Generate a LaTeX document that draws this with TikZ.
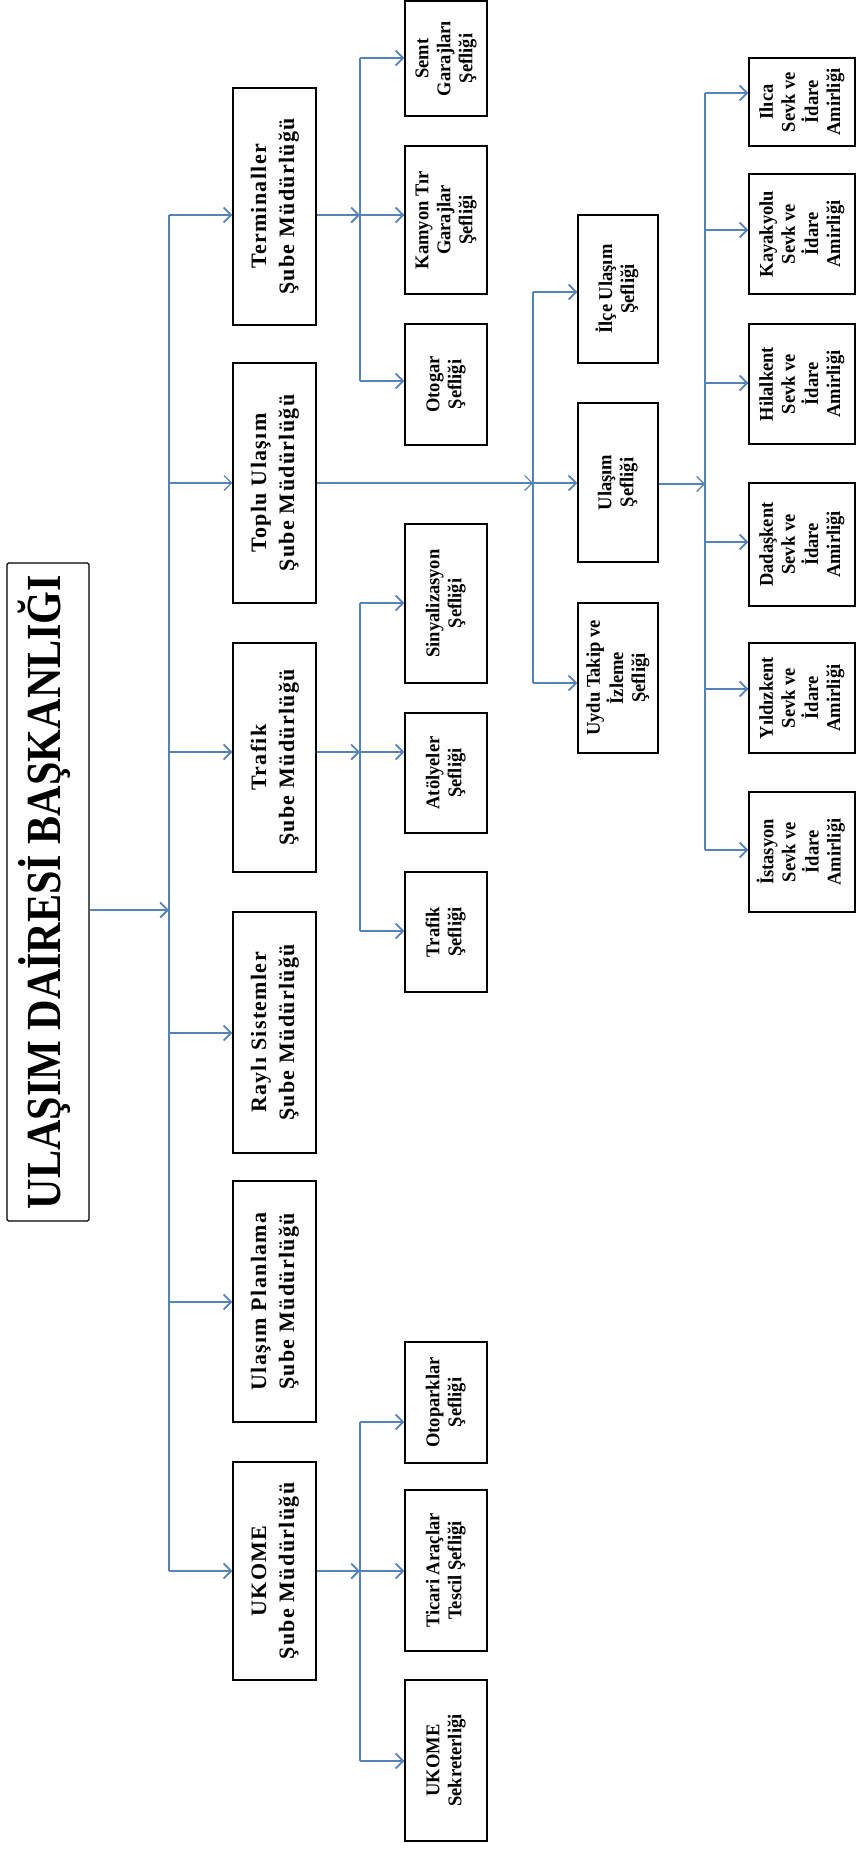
\documentclass[tikz,border=0pt]{standalone}
\usepackage{graphicx}
\usepackage{fontspec}
\setmainfont{Liberation Serif}
\newfontfamily\titlefont[FakeStretch=0.86]{Liberation Serif}
\newfontfamily\midfont[LetterSpace=6]{Liberation Serif}
\newfontfamily\smallfont[FakeStretch=0.95]{Liberation Serif}
\usetikzlibrary{arrows.meta}
\definecolor{ablue}{RGB}{84,130,185}
\newcommand\rtext[2]{\rotatebox{90}{#1\begin{tabular}{@{}c@{}}#2\end{tabular}}}
\newcommand\fA{\titlefont\bfseries\fontsize{49}{56}\selectfont}
\newcommand\fB{\midfont\bfseries\fontsize{22}{28}\selectfont}
\newcommand\fC{\smallfont\bfseries\fontsize{19.5}{22}\selectfont}
\tikzset{
  box/.style={draw=black, line width=1.3pt, inner sep=0pt, fill=white},
  conn/.style={draw=ablue, line width=1.8pt, -{Straight Barb[length=7.5pt,width=15pt]}},
  thinconn/.style={draw=ablue, line width=1.2pt, -{Straight Barb[length=7.5pt,width=15pt]}},
  bus/.style={draw=ablue, line width=2.4pt},
}
\begin{document}
\begin{tikzpicture}[x=1pt,y=1pt]
\fill[white] (0,0) rectangle (857,-1850);
\useasboundingbox (0,0) rectangle (857,-1850);

% title
\node[box, rounded corners=1.5pt, minimum width=82pt, minimum height=658pt] (title) at (48,-892) {\rtext{\fA}{ULAŞIM DAİRESİ BAŞKANLIĞI}};

% level 1
\node[box, minimum width=83pt, minimum height=237pt] (term) at (274.5,-206.5) {\rtext{\fB}{Terminaller\\Şube Müdürlüğü}};
\node[box, minimum width=83pt, minimum height=240pt] (toplu) at (274.5,-483) {\rtext{\fB}{Toplu Ulaşım\\Şube Müdürlüğü}};
\node[box, minimum width=83pt, minimum height=229pt] (trafik) at (274.5,-757.5) {\rtext{\fB}{Trafik\\Şube Müdürlüğü}};
\node[box, minimum width=83pt, minimum height=241pt] (rayli) at (274.5,-1032.5) {\rtext{\fB}{Raylı Sistemler\\Şube Müdürlüğü}};
\node[box, minimum width=83pt, minimum height=241pt] (plan) at (274.5,-1301.5) {\rtext{\fB}{Ulaşım Planlama\\Şube Müdürlüğü}};
\node[box, minimum width=83pt, minimum height=218pt] (ukome) at (274.5,-1571) {\rtext{\fB}{UKOME\\Şube Müdürlüğü}};

% level 2
\node[box, minimum width=82pt, minimum height=115pt] (semt) at (446,-58.5) {\rtext{\fC}{Semt\\Garajları\\Şefliği}};
\node[box, minimum width=82pt, minimum height=148pt] (kamyon) at (446,-220) {\rtext{\fC}{Kamyon Tır\\Garajlar\\Şefliği}};
\node[box, minimum width=82pt, minimum height=121pt] (otogar) at (446,-384.5) {\rtext{\fC}{Otogar\\Şefliği}};
\node[box, minimum width=82pt, minimum height=159pt] (sinyal) at (446,-603.5) {\rtext{\fC}{Sinyalizasyon\\Şefliği}};
\node[box, minimum width=82pt, minimum height=120pt] (atolye) at (446,-773) {\rtext{\fC}{Atölyeler\\Şefliği}};
\node[box, minimum width=82pt, minimum height=120pt] (trafiks) at (446,-932) {\rtext{\fC}{Trafik\\Şefliği}};
\node[box, minimum width=82pt, minimum height=121pt] (otopark) at (446,-1402.5) {\rtext{\fC}{Otoparklar\\Şefliği}};
\node[box, minimum width=82pt, minimum height=161pt] (ticari) at (446,-1570.5) {\rtext{\fC}{Ticari Araçlar\\Tescil Şefliği}};
\node[box, minimum width=82pt, minimum height=161pt] (ukomes) at (446,-1760.5) {\rtext{\fC}{UKOME\\Sekreterliği}};

% level 2b
\node[box, minimum width=80pt, minimum height=148pt] (ilce) at (618,-289) {\rtext{\fC}{İlçe Ulaşım\\Şefliği}};
\node[box, minimum width=80pt, minimum height=159pt] (ulasims) at (618,-482.5) {\rtext{\fC}{Ulaşım\\Şefliği}};
\node[box, minimum width=80pt, minimum height=150pt] (uydu) at (618,-678) {\rtext{\fC}{Uydu Takip ve\\İzleme\\Şefliği}};

% level 3
\node[box, minimum width=106pt, minimum height=88pt] (ilica) at (802,-102) {\rtext{\fC}{Ilıca\\Sevk ve\\İdare\\Amirliği}};
\node[box, minimum width=106pt, minimum height=120pt] (kayak) at (802,-234) {\rtext{\fC}{Kayakyolu\\Sevk ve\\İdare\\Amirliği}};
\node[box, minimum width=106pt, minimum height=120pt] (hilal) at (802,-384) {\rtext{\fC}{Hilalkent\\Sevk ve\\İdare\\Amirliği}};
\node[box, minimum width=106pt, minimum height=123pt] (dadas) at (802,-544.5) {\rtext{\fC}{Dadaşkent\\Sevk ve\\İdare\\Amirliği}};
\node[box, minimum width=106pt, minimum height=110pt] (yildiz) at (802,-698) {\rtext{\fC}{Yıldızkent\\Sevk ve\\İdare\\Amirliği}};
\node[box, minimum width=106pt, minimum height=120pt] (istasyon) at (802,-852) {\rtext{\fC}{İstasyon\\Sevk ve\\İdare\\Amirliği}};

% junction coordinates
\coordinate (jt) at (169,-910);
\coordinate (b1) at (169,-215);
\coordinate (b2) at (169,-483);
\coordinate (b3) at (169,-752);
\coordinate (b4) at (169,-1033);
\coordinate (b5) at (169,-1302);
\coordinate (b6) at (169,-1571);

\coordinate (g1a) at (360,-58);
\coordinate (g1b) at (360,-215);
\coordinate (g1c) at (360,-381);
\coordinate (g2a) at (360,-603);
\coordinate (g2b) at (360,-752);
\coordinate (g2c) at (360,-931);
\coordinate (g3a) at (360,-1422);
\coordinate (g3b) at (360,-1571);
\coordinate (g3c) at (360,-1761);

\coordinate (h1) at (533,-292);
\coordinate (h2) at (533,-483);
\coordinate (h3) at (533,-683);

\coordinate (k1) at (705,-93);
\coordinate (k2) at (705,-230);
\coordinate (k3) at (705,-383);
\coordinate (kj) at (705,-484);
\coordinate (k4) at (705,-542);
\coordinate (k5) at (705,-689);
\coordinate (k6) at (705,-850);

% buses
\draw[bus] (b1) -- (b6);
\draw[bus] (g1a) -- (g1c);
\draw[bus] (g2a) -- (g2c);
\draw[bus] (g3a) -- (g3c);
\draw[bus] (h1) -- (h3);
\draw[bus] (k1) -- (k6);

% title to trunk
\draw[conn] (title.east |- jt) -- (jt);

% trunk to level 1
\draw[conn] (b1) -- (b1 -| term.west);
\draw[thinconn] (b2) -- (b2 -| toplu.west);
\draw[conn] (b3) -- (b3 -| trafik.west);
\draw[conn] (b4) -- (b4 -| rayli.west);
\draw[conn] (b5) -- (b5 -| plan.west);
\draw[conn] (b6) -- (b6 -| ukome.west);

% terminaller group
\draw[conn] (term.east |- g1b) -- (g1b);
\draw[conn] (g1a) -- (g1a -| semt.west);
\draw[conn] (g1b) -- (g1b -| kamyon.west);
\draw[conn] (g1c) -- (g1c -| otogar.west);

% trafik group
\draw[conn] (trafik.east |- g2b) -- (g2b);
\draw[conn] (g2a) -- (g2a -| sinyal.west);
\draw[conn] (g2b) -- (g2b -| atolye.west);
\draw[conn] (g2c) -- (g2c -| trafiks.west);

% ukome group
\draw[conn] (ukome.east |- g3b) -- (g3b);
\draw[conn] (g3a) -- (g3a -| otopark.west);
\draw[conn] (g3b) -- (g3b -| ticari.west);
\draw[conn] (g3c) -- (g3c -| ukomes.west);

% toplu group
\draw[thinconn] (toplu.east |- h2) -- (h2);
\draw[conn] (h1) -- (h1 -| ilce.west);
\draw[conn] (h2) -- (h2 -| ulasims.west);
\draw[conn] (h3) -- (h3 -| uydu.west);

% ulasim sefligi group
\draw[thinconn] (ulasims.east |- kj) -- (kj);
\draw[conn] (k1) -- (k1 -| ilica.west);
\draw[conn] (k2) -- (k2 -| kayak.west);
\draw[conn] (k3) -- (k3 -| hilal.west);
\draw[conn] (k4) -- (k4 -| dadas.west);
\draw[conn] (k5) -- (k5 -| yildiz.west);
\draw[conn] (k6) -- (k6 -| istasyon.west);
\end{tikzpicture}
\end{document}
